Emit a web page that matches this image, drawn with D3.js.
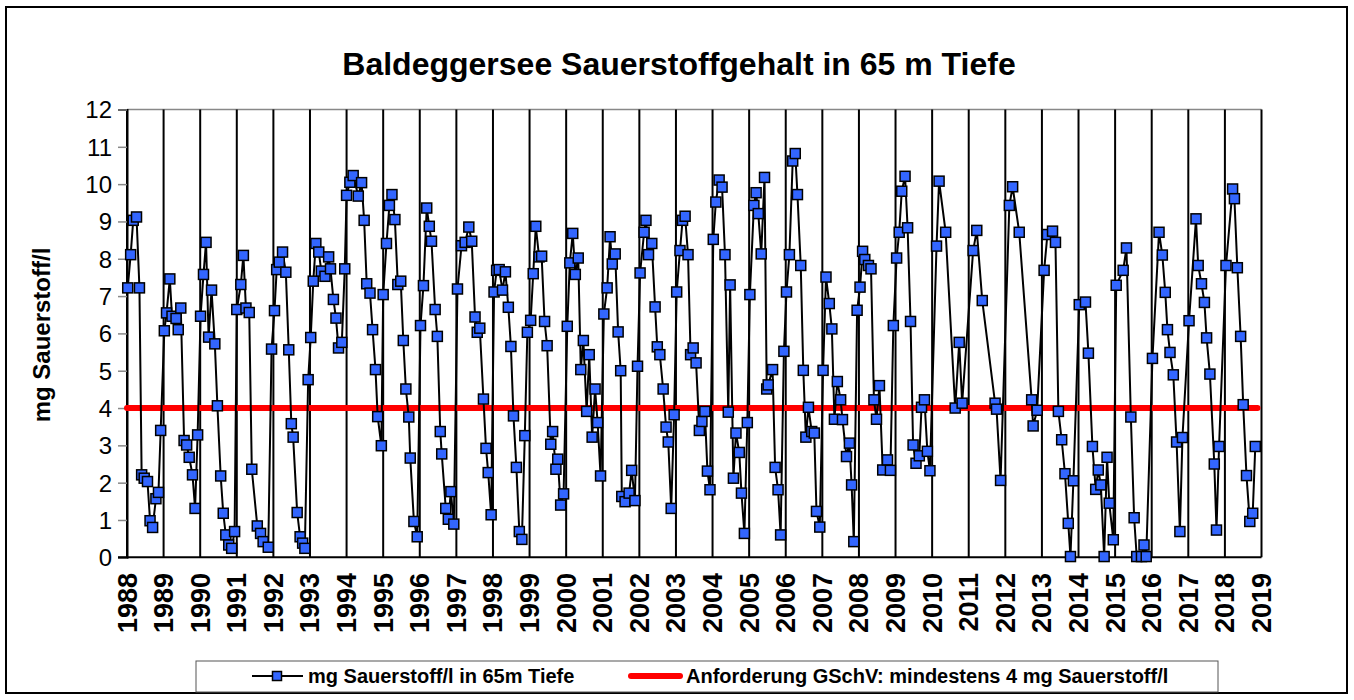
<!DOCTYPE html>
<html>
<head>
<meta charset="utf-8">
<script src="https://cdn.jsdelivr.net/npm/d3@7"></script>
<style>
  body { margin: 0; background: #fff; }
  svg text { font-family: "Liberation Sans", Arial, sans-serif; }
</style>
</head>
<body>
<script>
// sample dates (decimal year) and oxygen at 65 m depth (mg/l)
var dates = [
  1988.02,1988.10,1988.17,1988.26,1988.34,1988.40,1988.47,1988.56,1988.63,1988.70,1988.79,1988.86,1988.92,
  1989.02,1989.08,1989.17,1989.23,1989.34,1989.40,1989.47,1989.56,1989.63,1989.70,1989.79,1989.86,1989.93,
  1990.01,1990.09,1990.16,1990.23,1990.31,1990.40,1990.47,1990.56,1990.63,1990.70,1990.78,1990.86,1990.94,
  1991.00,1991.11,1991.18,1991.25,1991.34,1991.41,1991.56,1991.65,1991.72,1991.86,1991.95,
  1992.03,1992.09,1992.16,1992.25,1992.34,1992.42,1992.49,1992.54,1992.65,1992.73,1992.80,1992.86,1992.95,
  1993.02,1993.09,1993.16,1993.24,1993.31,1993.41,1993.51,1993.56,1993.64,1993.71,1993.78,1993.87,1993.95,
  1994.00,1994.09,1994.18,1994.32,1994.41,1994.48,1994.55,1994.64,1994.71,1994.79,1994.85,1994.95,
  1995.00,1995.09,1995.17,1995.24,1995.32,1995.40,1995.48,1995.55,1995.62,1995.70,1995.74,1995.84,1995.93,
  1996.02,1996.10,1996.19,1996.26,1996.32,1996.42,1996.48,1996.56,1996.60,1996.71,1996.78,1996.85,1996.93,
  1997.03,1997.14,1997.24,1997.34,1997.42,1997.51,1997.57,1997.64,1997.74,1997.81,1997.87,1997.95,
  1998.03,1998.10,1998.17,1998.26,1998.34,1998.42,1998.49,1998.56,1998.64,1998.72,1998.79,1998.87,1998.94,
  1999.03,1999.10,1999.17,1999.26,1999.33,1999.41,1999.48,1999.58,1999.63,1999.72,1999.77,1999.85,1999.93,
  2000.03,2000.10,2000.18,2000.25,2000.33,2000.40,2000.47,2000.56,2000.63,2000.71,2000.79,2000.86,2000.94,
  2001.03,2001.12,2001.20,2001.26,2001.34,2001.42,2001.49,2001.52,2001.61,2001.72,2001.79,2001.88,2001.95,
  2002.02,2002.13,2002.18,2002.25,2002.34,2002.43,2002.49,2002.56,2002.65,2002.73,2002.79,2002.87,2002.95,
  2003.02,2003.11,2003.18,2003.25,2003.33,2003.40,2003.47,2003.55,2003.64,2003.71,2003.79,2003.86,2003.93,
  2004.02,2004.09,2004.18,2004.26,2004.34,2004.43,2004.48,2004.57,2004.64,2004.73,2004.79,2004.87,2004.95,
  2005.02,2005.13,2005.19,2005.25,2005.33,2005.42,2005.48,2005.52,2005.64,2005.71,2005.79,2005.86,2005.95,
  2006.02,2006.10,2006.19,2006.26,2006.32,2006.41,2006.48,2006.55,2006.62,2006.71,2006.78,2006.84,2006.93,
  2007.02,2007.10,2007.19,2007.26,2007.33,2007.41,2007.50,2007.55,2007.66,2007.74,2007.80,2007.86,2007.95,
  2008.03,2008.10,2008.16,2008.26,2008.33,2008.41,2008.48,2008.56,2008.65,2008.78,2008.86,2008.94,
  2009.03,2009.10,2009.17,2009.26,2009.33,2009.41,2009.48,2009.56,2009.65,2009.71,2009.79,2009.87,2009.94,
  2010.12,2010.19,2010.37,2010.63,2010.74,2010.82,
  2011.12,2011.22,2011.37,2011.72,2011.76,2011.87,
  2012.11,2012.20,2012.38,2012.72,2012.76,2012.87,
  2013.06,2013.15,2013.29,2013.37,2013.45,2013.54,2013.63,2013.72,2013.78,2013.86,
  2014.02,2014.19,2014.27,2014.38,2014.47,2014.54,2014.61,2014.70,2014.78,2014.84,2014.95,
  2015.03,2015.22,2015.31,2015.43,2015.52,2015.59,2015.72,2015.79,2015.85,
  2016.02,2016.20,2016.29,2016.37,2016.43,2016.50,2016.59,2016.68,2016.77,2016.84,
  2017.02,2017.21,2017.27,2017.36,2017.44,2017.50,2017.59,2017.71,2017.77,2017.84,
  2018.03,2018.21,2018.26,2018.34,2018.43,2018.50,2018.59,2018.68,2018.76,2018.83
];
var oxygen = [
  7.22,8.11,9.03,9.12,7.22,2.21,2.12,2.03,0.98,0.80,1.57,1.74,3.40,
  6.07,6.55,7.46,6.46,6.40,6.10,6.68,3.13,3.01,2.68,2.21,1.31,3.28,
  6.46,7.58,8.44,5.90,7.16,5.72,4.06,2.18,1.18,0.60,0.33,0.24,0.69,
  6.64,7.31,8.09,6.68,6.56,2.36,0.84,0.64,0.42,0.27,5.58,
  6.61,7.71,7.91,8.18,7.64,5.56,3.58,3.22,1.20,0.55,0.38,0.24,4.76,
  5.89,7.40,8.41,8.18,7.67,7.53,8.05,7.73,6.91,6.41,5.61,5.76,7.73,
  9.70,10.05,10.23,9.68,10.04,9.03,7.33,7.08,6.10,5.03,3.77,2.99,
  7.04,8.41,9.43,9.72,9.05,7.31,7.40,5.81,4.51,3.76,2.66,0.96,0.55,
  6.21,7.28,9.36,8.87,8.47,6.64,5.92,3.37,2.77,1.31,1.02,1.76,0.89,
  7.19,8.35,8.44,8.85,8.47,6.44,6.03,6.14,4.24,2.92,2.27,1.14,
  7.11,7.69,7.71,7.16,7.65,6.70,5.65,3.79,2.41,0.69,0.48,3.26,6.03,
  6.35,7.60,8.87,8.05,8.07,6.32,5.67,3.03,3.37,2.36,2.63,1.40,1.70,
  6.19,7.89,8.68,7.58,8.02,5.03,5.81,3.91,5.43,3.22,4.51,3.61,2.18,
  6.52,7.22,8.59,7.86,8.13,6.04,5.00,1.63,1.49,1.72,2.33,1.52,5.12,
  7.62,8.71,9.03,8.11,8.41,6.71,5.64,5.43,4.51,3.49,3.09,1.31,3.82,
  7.11,8.22,9.03,9.14,8.11,5.43,5.61,5.21,3.40,3.64,3.91,2.31,1.81,
  8.52,9.52,10.11,9.92,8.11,3.89,7.30,2.12,3.33,2.81,1.72,0.64,3.61,
  7.04,9.43,9.77,9.21,8.13,10.18,4.51,4.62,5.03,2.41,1.81,0.60,5.52,
  7.11,8.11,10.62,10.82,9.72,7.82,5.01,3.22,4.02,3.37,3.33,1.23,0.81,
  5.01,7.51,6.80,6.12,3.70,4.71,4.22,3.69,2.70,3.06,1.94,0.42,6.62,
  7.24,8.20,7.98,7.82,7.73,4.22,3.70,4.60,2.34,2.61,2.33,6.21,
  8.02,8.71,9.81,10.21,8.83,6.32,3.01,2.52,2.72,4.02,4.22,2.84,2.32,
  8.34,10.08,8.71,4.00,5.76,4.13,
  8.22,8.76,6.88,4.13,3.97,2.06,
  9.43,9.93,8.71,4.22,3.52,3.94,
  7.69,8.65,8.74,8.44,3.91,3.15,2.24,0.91,0.02,2.05,
  6.77,6.84,5.47,2.97,1.82,2.34,1.94,0.02,2.68,1.45,0.47,
  7.29,7.69,8.29,3.76,1.06,0.02,0.02,0.33,0.02,
  5.33,8.71,8.10,7.10,6.10,5.49,4.89,3.09,0.69,3.21,
  6.34,9.07,7.82,7.33,6.83,5.88,4.91,2.50,0.73,2.97,
  7.82,9.87,9.61,7.76,5.92,4.09,2.19,0.96,1.18,2.97
];
var yearTicks = d3.range(1988, 2020);
var valueTicks = d3.range(0, 13);
var threshold = 4;

var titleText = "Baldeggersee Sauerstoffgehalt in 65 m Tiefe";
var yLabel = "mg Sauerstoff/l";
var seriesName = "mg Sauerstoff/l in 65m Tiefe";
var limitName = "Anforderung GSchV: mindestens 4 mg Sauerstoff/l";

var W = 1354, H = 700;
var svg = d3.select("body").append("svg")
    .attr("width", W)
    .attr("height", H);

// outer frame
svg.append("rect")
    .attr("x", 6).attr("y", 7)
    .attr("width", 1341).attr("height", 686)
    .style("fill", "#fff")
    .style("stroke", "#000")
    .style("stroke-width", 2);

var x = d3.scaleLinear().domain([1988, 2019]).range([127, 1261.5]);
var y = d3.scaleLinear().domain([0, 12]).range([557.3, 109.5]);

// title
svg.append("text")
    .attr("x", 679).attr("y", 75)
    .attr("text-anchor", "middle")
    .style("font-size", "32px")
    .style("font-weight", "bold")
    .text(titleText);

// plot frame top
svg.append("line")
    .attr("x1", x(1988)).attr("x2", x(2019))
    .attr("y1", y(12)).attr("y2", y(12))
    .style("stroke", "#888").style("stroke-width", 1.5);

// vertical year lines
svg.append("g").selectAll("line")
    .data(yearTicks)
    .join("line")
    .attr("x1", function (d) { return x(d); })
    .attr("x2", function (d) { return x(d); })
    .attr("y1", y(12)).attr("y2", y(0))
    .style("stroke", "#000")
    .style("stroke-width", 2);

// y axis
var yAxis = svg.append("g")
    .attr("transform", "translate(" + x(1988) + ",0)")
    .call(d3.axisLeft(y).tickValues(valueTicks).tickSize(9).tickPadding(6).tickFormat(d3.format("d")));
yAxis.select(".domain").style("stroke", "#000").style("stroke-width", 2);
yAxis.selectAll(".tick line").style("stroke", "#888").style("stroke-width", 1.5);
yAxis.selectAll(".tick text")
    .style("font-size", "24px")
    .style("fill", "#000")
    .attr("dy", "0.35em");

// x axis baseline
svg.append("line")
    .attr("x1", x(1988) - 9).attr("x2", x(2019))
    .attr("y1", y(0)).attr("y2", y(0))
    .style("stroke", "#000").style("stroke-width", 2);

// year labels
svg.append("g").selectAll("text")
    .data(yearTicks)
    .join("text")
    .attr("transform", function (d) { return "translate(" + (x(d) + 9.5) + ",573) rotate(-90)"; })
    .attr("text-anchor", "end")
    .style("font-size", "27px")
    .style("font-weight", "bold")
    .text(function (d) { return d; });

// y label
svg.append("text")
    .attr("transform", "translate(50,335) rotate(-90)")
    .attr("text-anchor", "middle")
    .style("font-size", "24px")
    .style("font-weight", "bold")
    .text(yLabel);

// threshold line
svg.append("line")
    .attr("x1", x(1988)).attr("x2", x(2019) - 4)
    .attr("y1", y(threshold)).attr("y2", y(threshold))
    .style("stroke", "#ff0000")
    .style("stroke-width", 6)
    .style("stroke-linecap", "round");

// series
var pts = dates.map(function (d, i) { return [d, oxygen[i]]; });
var line = d3.line()
    .x(function (d) { return x(d[0]); })
    .y(function (d) { return y(d[1]); });

svg.append("path")
    .datum(pts)
    .attr("d", line)
    .style("fill", "none")
    .style("stroke", "#000")
    .style("stroke-width", 2);

var ms = 10;
svg.append("g").selectAll("rect")
    .data(pts)
    .join("rect")
    .attr("x", function (d) { return x(d[0]) - ms / 2; })
    .attr("y", function (d) { return y(d[1]) - ms / 2; })
    .attr("width", ms).attr("height", ms)
    .style("fill", "#3366ff")
    .style("stroke", "#000")
    .style("stroke-width", 1.5);

// legend
var lg = svg.append("g");
lg.append("rect")
    .attr("x", 196).attr("y", 661)
    .attr("width", 1022).attr("height", 31)
    .style("fill", "#fff")
    .style("stroke", "#555")
    .style("stroke-width", 1);
lg.append("line")
    .attr("x1", 252).attr("x2", 303)
    .attr("y1", 676).attr("y2", 676)
    .style("stroke", "#000").style("stroke-width", 2);
lg.append("rect")
    .attr("x", 277 - 4.5).attr("y", 676 - 4.5)
    .attr("width", 9).attr("height", 9)
    .style("fill", "#3366ff").style("stroke", "#000").style("stroke-width", 1.5);
lg.append("text")
    .attr("x", 308).attr("y", 683)
    .style("font-size", "20px").style("font-weight", "bold")
    .text(seriesName);
lg.append("line")
    .attr("x1", 631).attr("x2", 680)
    .attr("y1", 676).attr("y2", 676)
    .style("stroke", "#ff0000").style("stroke-width", 6)
    .style("stroke-linecap", "round");
lg.append("text")
    .attr("x", 686).attr("y", 683)
    .style("font-size", "20px").style("font-weight", "bold")
    .text(limitName);
</script>
</body>
</html>
